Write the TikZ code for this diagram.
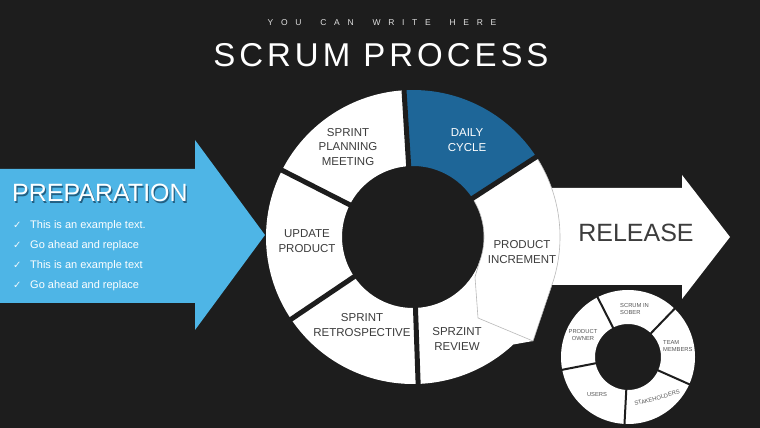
\documentclass[tikz,border=0pt]{standalone}
\usepackage{fontspec}
\setmainfont{Liberation Sans}
\newfontfamily\djv{DejaVu Sans}
\newfontfamily\spacedfont[LetterSpace=90]{Liberation Sans}
\newfontfamily\titlefont[LetterSpace=12]{Liberation Sans}
\definecolor{bg}{RGB}{29,29,29}
\definecolor{prepblue}{RGB}{78,181,230}
\definecolor{dailyblue}{RGB}{30,102,152}
\definecolor{labelgray}{RGB}{60,60,60}
\definecolor{smallgray}{RGB}{85,85,85}
\definecolor{outlinegray}{RGB}{185,185,185}
\definecolor{prepshadow}{RGB}{35,95,130}
\begin{document}
\begin{tikzpicture}[x=1pt,y=1pt,
  seglabel/.style={text=labelgray,font=\fontsize{11.5}{14.5}\selectfont,align=center,inner sep=0pt},
  smalllabel/.style={text=smallgray,font=\fontsize{5.8}{7.5}\selectfont,align=center,inner sep=0pt},
  ringseg/.style={fill=white},
  divider/.style={draw=bg,line width=5pt},
  smalldivider/.style={draw=bg,line width=2pt},
  bullettext/.style={text=white,font=\fontsize{11}{11}\selectfont,inner sep=0pt,anchor=base west},
  checkmark/.style={text=white!92!prepblue,font=\djv\fontsize{10}{10}\selectfont,inner sep=0pt,anchor=base west},
  prep/.style={font=\fontsize{25}{25}\selectfont,inner sep=0pt,anchor=base west}
]
\fill[bg] (0,0) rectangle (760,428);
\useasboundingbox (0,0) rectangle (760,428);

% titles
\node[text=white!88!black,inner sep=0pt,anchor=base,
  font=\spacedfont\fontsize{8.5}{8.5}\selectfont] (subtitle) at (382,402) {YOU\hspace{9pt} CAN\hspace{9pt} WRITE\hspace{9pt} HERE};
\node[text=white,inner sep=0pt,anchor=base,
  font=\titlefont\fontsize{33}{33}\selectfont] (title) at (381,361) {SCRUM PROCESS};

% left arrow
\fill[prepblue] (0,259) -- (195,259) -- (195,288) -- (265,193) -- (195,98) -- (195,125) -- (0,125) -- cycle;
\node[prep,text=prepshadow] (prepshadow) at (13.2,224.8) {PREPARATION};
\node[prep,text=white] (prep) at (12,226) {PREPARATION};
\foreach \i/\t/\yy in {1/This is an example text./199, 2/Go ahead and replace/179, 3/This is an example text/159, 4/Go ahead and replace/139}{
  \node[checkmark] (check\i) at (13,\yy) {✓};
  \node[bullettext] (bullet\i) at (30,\yy) {\t};
}

% release arrow
\fill[white] (500,240) -- (682,240) -- (682,253) -- (730,191) -- (682,129) -- (682,143) -- (500,143) -- cycle;
\node[text=labelgray,inner sep=0pt,anchor=base,font=\fontsize{25}{25}\selectfont] (release) at (636,186) {RELEASE};

% big ring
\begin{scope}[shift={(413,191)}]
  \fill[dailyblue] (33:71) -- (33:147) arc[start angle=33,end angle=93.5,radius=147pt] -- (93.5:71) arc[start angle=93.5,end angle=33,radius=71pt] -- cycle;
  \fill[ringseg] (93.5:71) -- (93.5:147) arc[start angle=93.5,end angle=153,radius=147pt] -- (153:71) arc[start angle=153,end angle=93.5,radius=71pt] -- cycle;
  \fill[ringseg] (153:71) -- (153:147) arc[start angle=153,end angle=214,radius=147pt] -- (214:71) arc[start angle=214,end angle=153,radius=71pt] -- cycle;
  \fill[ringseg] (214:71) -- (214:147) arc[start angle=214,end angle=272,radius=147pt] -- (272:71) arc[start angle=272,end angle=214,radius=71pt] -- cycle;
  % review
  \fill[ringseg] (272:71) -- (272:147) arc[start angle=272,end angle=313,radius=147pt] -- (120,-104) -- (62,-40) -- (-21:71) arc[start angle=-21,end angle=-88,radius=71pt] -- cycle;
  % product increment (curved arrow)
  \filldraw[fill=white,draw=outlinegray,line width=0.6pt,line join=miter] (33:147) arc[start angle=33,end angle=-17,radius=147pt] -- (120,-104) -- (65,-81) -- (62,-40) -- (-21:71) arc[start angle=-21,end angle=33,radius=71pt] -- cycle;
  \foreach \a in {33,93.5,153,214,272}{
    \draw[divider] (\a:66) -- (\a:152);
  }
\end{scope}

\node[seglabel] (planning) at (348,281) {SPRINT\\PLANNING\\MEETING};
\node[seglabel,text=white] (daily) at (467,288) {DAILY\\CYCLE};
\node[seglabel] (update) at (307,187) {UPDATE\\PRODUCT};
\node[seglabel] (increment) at (522,176) {PRODUCT\\INCREMENT};
\node[seglabel] (retro) at (362,103) {SPRINT\\RETROSPECTIVE};
\node[seglabel] (review) at (457,89) {SPRZINT\\REVIEW};

% small ring
\begin{scope}[shift={(628,71)}]
  \fill[white,even odd rule] (0,0) circle[radius=67pt] (0,0) circle[radius=33pt];
  \foreach \a in {117,46,-24,-93,191}{
    \draw[smalldivider] (\a:31) -- (\a:69);
  }
\end{scope}
\node[smalllabel,align=left,anchor=west] (scrum) at (620,119) {SCRUM IN\\SOBER};
\node[smalllabel] (owner) at (583,93) {PRODUCT\\OWNER};
\node[smalllabel,align=left,anchor=west] (team) at (663,82) {TEAM\\MEMBERS};
\node[smalllabel] (users) at (597,33) {USERS};
\node[smalllabel,rotate=15] (stake) at (657,30) {STAKEHOLDERS};
\end{tikzpicture}
\end{document}
